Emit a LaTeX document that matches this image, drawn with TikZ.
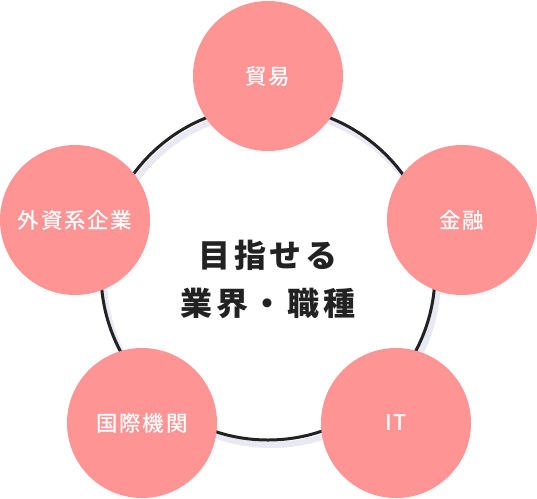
\documentclass[tikz,border=0pt]{standalone}
\usepackage{fontspec}
\setmainfont{Noto Sans CJK JP}
\newfontfamily\labelfont[LetterSpace=8]{Noto Sans CJK JP Medium}
\newfontfamily\goalfont[LetterSpace=12]{Noto Sans CJK JP}
\usetikzlibrary{positioning}
\usepackage{xcolor}
\definecolor{fieldpink}{RGB}{255,148,148}
\definecolor{ringshade}{RGB}{232,233,242}
\definecolor{inkdark}{RGB}{34,34,34}

\begin{document}
\begin{tikzpicture}[x=1pt, y=-1pt,
  field/.style={circle, fill=fieldpink, minimum size=150pt, inner sep=0pt,
    text=white, font=\labelfont\fontsize{21.5}{24}\selectfont}]
  \def\cx{268}\def\cy{273}\def\rr{167pt}
  \useasboundingbox (0,0) rectangle (537,498);

  % ring with its soft shade
  \draw[ringshade, line width=6pt] (\cx+3,\cy+5) circle (\rr);
  \draw[inkdark, line width=3pt] (\cx,\cy) circle (\rr);

  % fields round the ring
  \node[field] (trade)   at (268,76)  {貿易};
  \node[field] (finance) at (462,220) {金融};
  \node[field] (itfield) at (396,423) {IT};
  \node[field] (intl)    at (142,423) {国際機関};
  \node[field] (foreign) at (75,220)  {外資系企業};

  % centre title
  \node[text=inkdark, align=center, font=\goalfont\bfseries\fontsize{32}{48}\selectfont]
    (goal) at (\cx,279) {目指せる\\業界・職種};

\end{tikzpicture}
\end{document}
